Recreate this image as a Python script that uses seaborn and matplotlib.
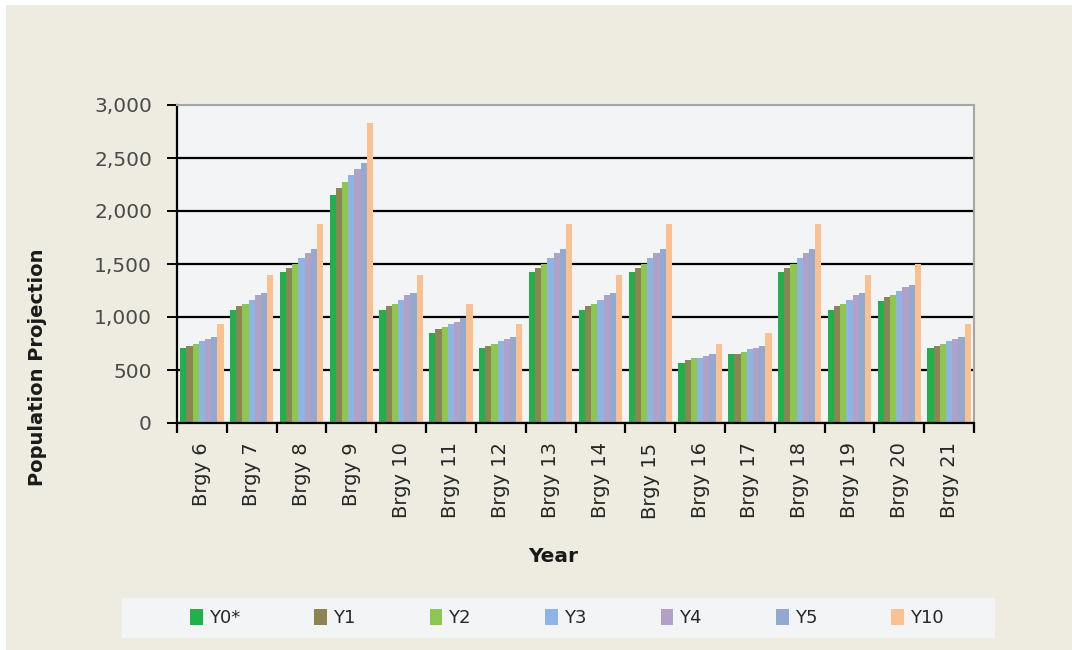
import matplotlib
matplotlib.use("Agg")
import matplotlib.pyplot as plt
from matplotlib.patches import Rectangle, Patch
from matplotlib.ticker import FuncFormatter
import numpy as np
import pandas as pd
import seaborn as sns

# Projected population per barangay
barangays = ["Brgy 6", "Brgy 7", "Brgy 8", "Brgy 9", "Brgy 10", "Brgy 11", "Brgy 12",
             "Brgy 13", "Brgy 14", "Brgy 15", "Brgy 16", "Brgy 17", "Brgy 18",
             "Brgy 19", "Brgy 20", "Brgy 21"]
years = ["Y0*", "Y1", "Y2", "Y3", "Y4", "Y5", "Y10"]

y0 = [710, 1065, 1425, 2155, 1065, 845, 710, 1425, 1065, 1425, 570, 650, 1425, 1065, 1150, 710]
y1 = [730, 1105, 1460, 2215, 1105, 890, 730, 1460, 1105, 1460, 590, 650, 1460, 1105, 1185, 730]
y2 = [750, 1125, 1500, 2275, 1125, 910, 750, 1500, 1125, 1500, 610, 670, 1500, 1125, 1205, 750]
y3 = [770, 1165, 1560, 2335, 1165, 930, 770, 1560, 1165, 1560, 610, 695, 1560, 1165, 1245, 770]
y4 = [790, 1205, 1600, 2395, 1205, 950, 790, 1600, 1205, 1600, 630, 710, 1600, 1205, 1285, 790]
y5 = [810, 1225, 1645, 2455, 1225, 990, 810, 1645, 1225, 1645, 650, 730, 1645, 1225, 1305, 810]
y10 = [930, 1400, 1880, 2830, 1400, 1125, 930, 1880, 1400, 1880, 750, 850, 1880, 1400, 1500, 930]

colors = ["#21B04B", "#8C8452", "#8DC650", "#8DB4E2", "#B2A1C7", "#93A9CF", "#FBC090"]

series = [y0, y1, y2, y3, y4, y5, y10]
df = pd.DataFrame(
    [(b, yr, v) for yr, vals in zip(years, series) for b, v in zip(barangays, vals)],
    columns=["Barangay", "Year", "Population"],
)

sns.set_theme(style="white")
plt.rcParams["font.family"] = ["DejaVu Sans"]

W, H = 1072, 650
fig = plt.figure(figsize=(W / 100, H / 100), dpi=100, facecolor="white")

# beige panel behind the chart
fig.patches.append(Rectangle((6 / W, 0), 1 - 6 / W, 1 - 5 / H, transform=fig.transFigure,
                             facecolor="#EEEBE0", edgecolor="none", zorder=-3))
# legend panel
fig.patches.append(Rectangle((122 / W, 1 - 638 / H), (995 - 122) / W, 40 / H,
                             transform=fig.transFigure, facecolor="#F3F4F6",
                             edgecolor="none", zorder=-2))

ax = fig.add_axes([177 / W, 1 - 423 / H, (974 - 177) / W, (423 - 105) / H])
ax.set_facecolor("#F3F4F6")

sns.barplot(data=df, x="Barangay", y="Population", hue="Year", order=barangays,
            hue_order=years, palette=colors, width=0.87, saturation=1,
            errorbar=None, linewidth=0, legend=False, ax=ax)

ax.set_xlim(-0.5, len(barangays) - 0.5)
ax.set_ylim(0, 3000)
ax.set_yticks(np.arange(0, 3001, 500))
ax.yaxis.set_major_formatter(FuncFormatter(lambda v, p: f"{int(v):,}"))

ax.set_axisbelow(True)
ax.yaxis.grid(True, color="black", linewidth=1.6)
ax.get_ygridlines()[-1].set_visible(False)
ax.xaxis.grid(False)

for side in ("top", "right"):
    ax.spines[side].set_color("#A6A6A6")
    ax.spines[side].set_linewidth(1.5)
for side in ("left", "bottom"):
    ax.spines[side].set_color("black")
    ax.spines[side].set_linewidth(1.6)

ax.set_xticks(np.arange(-0.5, len(barangays), 1), minor=True)
ax.tick_params(axis="x", which="major", length=0, pad=14, labelsize=14,
               labelcolor="#262626", rotation=90)
ax.tick_params(axis="x", which="minor", length=7, width=1.6, color="black", direction="out",
               bottom=True)
ax.tick_params(axis="y", which="major", length=7, width=1.4, color="black", direction="out",
               left=True, labelsize=14.5, labelcolor="#4A4A4A", pad=11)

ax.set_xlabel("")
ax.set_ylabel("")

fig.text(38 / W, 1 - 367 / H, "Population Projection", rotation=90, ha="center",
         va="center", fontsize=14, fontweight="bold", color="#1A1A1A")
fig.text(553 / W, 1 - 557 / H, "Year", ha="center", va="center", fontsize=14.5,
         fontweight="bold", color="#1A1A1A")

handles = [Patch(facecolor=c, edgecolor="none") for c in colors]
fig.legend(handles, years, loc="center", bbox_to_anchor=(567 / W, 1 - 618 / H),
           ncol=7, frameon=False, fontsize=13, handlelength=0.7, handleheight=1.0,
           handletextpad=0.35, columnspacing=4.1, labelcolor="#262626")

fig.savefig("out.png", dpi=100, facecolor=fig.get_facecolor())
